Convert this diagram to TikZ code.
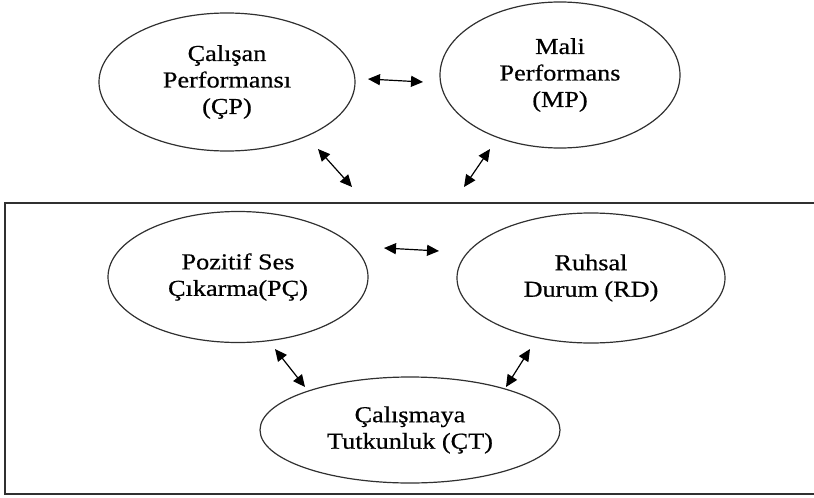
\documentclass[tikz,border=0pt]{standalone}
\usepackage{fontspec}
\setmainfont{Liberation Serif}[FakeStretch=1.15,FakeBold=0.6]
\usetikzlibrary{shapes.geometric,arrows.meta}
\definecolor{edge}{HTML}{303030}
\tikzset{
  oval/.style={ellipse, draw=edge, line width=1.2pt, inner sep=0pt, align=center,
    font=\fontsize{22.8}{26.5}\selectfont},
  link/.style={line width=1.2pt, draw=black, {Triangle[length=12pt,width=11pt]}-{Triangle[length=12pt,width=11pt]}},
  frame/.style={draw=edge, line width=1.6pt}
}
\begin{document}
\begin{tikzpicture}[x=1pt,y=-1pt]
\useasboundingbox (0,0) rectangle (814,498);
\draw[frame] (816,203) -- (5,203) -- (5,494) -- (816,494);
\node[oval, minimum width=256pt, minimum height=138pt] (cp) at (227,82) {Çalışan\\Performansı\\(ÇP)};
\node[oval, minimum width=240pt, minimum height=146pt] (mp) at (560,75) {Mali\\Performans\\(MP)};
\node[oval, minimum width=260pt, minimum height=131pt] (pc) at (238,277) {Pozitif Ses\\Çıkarma(PÇ)};
\node[oval, minimum width=268pt, minimum height=130pt] (rd) at (591,278) {Ruhsal\\Durum (RD)};
\node[oval, minimum width=300pt, minimum height=106pt] (ct) at (410,430) {Çalışmaya\\Tutkunluk (ÇT)};
\coordinate (a1) at (368,79); \coordinate (a2) at (423,82);
\coordinate (b1) at (318,149); \coordinate (b2) at (352,187);
\coordinate (c1) at (490,149); \coordinate (c2) at (464,187);
\coordinate (d1) at (384,248); \coordinate (d2) at (439,251);
\coordinate (e1) at (275,349); \coordinate (e2) at (305,387);
\coordinate (f1) at (530,349); \coordinate (f2) at (506,387);
\draw[link] (a1) -- (a2);
\draw[link] (b1) -- (b2);
\draw[link] (c1) -- (c2);
\draw[link] (d1) -- (d2);
\draw[link] (e1) -- (e2);
\draw[link] (f1) -- (f2);
\end{tikzpicture}
\end{document}
